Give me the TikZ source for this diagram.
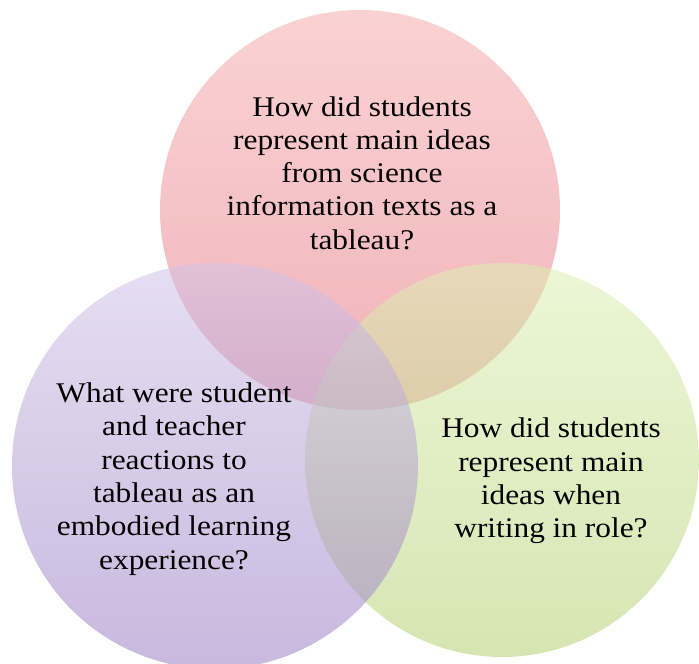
\documentclass[tikz,border=0pt]{standalone}
\usepackage{fontspec}
\setmainfont[FakeStretch=1.1]{Liberation Serif}
\usepackage{xcolor}
\usepackage{tikz}

\definecolor{pinktop}{RGB}{246,173,173}
\definecolor{pinkbot}{RGB}{228,116,126}
\definecolor{lilactop}{RGB}{209,195,231}
\definecolor{lilacbot}{RGB}{155,126,195}
\definecolor{limetop}{RGB}{220,239,180}
\definecolor{limebot}{RGB}{180,209,115}

\tikzset{
    venn/.style={circle, inner sep=0pt, opacity=0.55},
    question/.style={align=center, text=black,
        font=\fontsize{28.5}{33.3}\selectfont}
}

\begin{document}
\begin{tikzpicture}[x=1pt, y=1pt]
    \useasboundingbox (0, 0) rectangle (699, 664);

    % the three circles
    \node[venn, minimum size=400pt, top color=pinktop, bottom color=pinkbot]
        (tableau) at (360, 454) {};
    \node[venn, minimum size=394pt, top color=limetop, bottom color=limebot]
        (writing) at (502, 204) {};
    \node[venn, minimum size=406pt, top color=lilactop, bottom color=lilacbot]
        (reactions) at (215, 198) {};

    % the questions
    \node[question] (tableauq) at (362, 491)
        {How did students\\represent main ideas\\from science\\information texts as a\\tableau?};
    \node[question] (reactionsq) at (174, 185)
        {What were student\\and teacher\\reactions to\\tableau as an\\embodied learning\\experience?};
    \node[question] (writingq) at (551, 183)
        {How did students\\represent main\\ideas when\\writing in role?};
\end{tikzpicture}
\end{document}
